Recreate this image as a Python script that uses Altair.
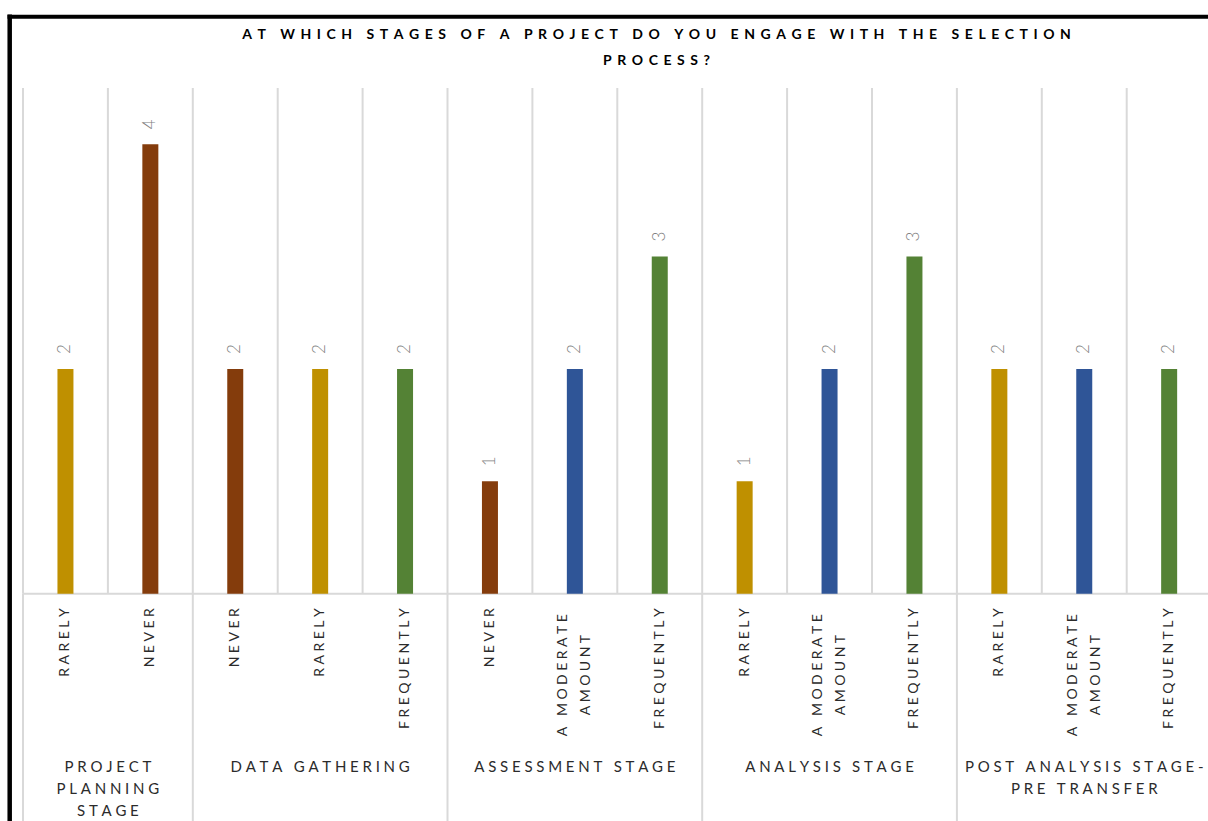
import altair as alt
import pandas as pd

title_lines = ["AT WHICH STAGES OF A PROJECT DO YOU ENGAGE WITH THE SELECTION", "PROCESS?"]
group_labels = [
    ["PROJECT", "PLANNING", "STAGE"],
    ["DATA GATHERING"],
    ["ASSESSMENT STAGE"],
    ["ANALYSIS STAGE"],
    ["POST ANALYSIS STAGE-", "PRE TRANSFER"],
]
responses = [
    ["RARELY", "NEVER"],
    ["NEVER", "RARELY", "FREQUENTLY"],
    ["NEVER", "A MODERATE AMOUNT", "FREQUENTLY"],
    ["RARELY", "A MODERATE AMOUNT", "FREQUENTLY"],
    ["RARELY", "A MODERATE AMOUNT", "FREQUENTLY"],
]
values = [
    [2, 4],
    [2, 2, 2],
    [1, 2, 3],
    [1, 2, 3],
    [2, 2, 2],
]
label_lines = {"A MODERATE AMOUNT": ["A MODERATE", "AMOUNT"]}
color_domain = ["RARELY", "NEVER", "A MODERATE AMOUNT", "FREQUENTLY"]
color_range = ["#BF9000", "#843C0C", "#2F5597", "#548235"]

FONT = "Lato"
SP = "\u2005"
SP_T = "\u2004\u200A"
TXT = "#2b2b2b"


def spaced(s, sp=SP):
    return (sp + " " + sp).join(sp.join(w) for w in s.split(" "))


rows = []
k = 0
bounds = [0]
grp_rows = []
for gi, (resp, vals) in enumerate(zip(responses, values)):
    start = k
    for r, v in zip(resp, vals):
        lines = label_lines.get(r, [r])
        rows.append({
            "pos": k + 0.5,
            "response": r,
            "value": v,
            "label": "\n".join(spaced(l) for l in lines),
            "multi": len(lines) > 1,
        })
        k += 1
    bounds.append(k)
    grp_rows.append({"pos": (start + k) / 2, "label": "\n".join(spaced(l) for l in group_labels[gi])})

df = pd.DataFrame(rows)
single = df[~df["multi"]]
multi = df[df["multi"]]
grp = pd.DataFrame(grp_rows)
cat_lines = pd.DataFrame({"x": list(range(0, k + 1))})
grp_lines = pd.DataFrame({"x": bounds})

YMAX = 4.5
YMIN = -2.0222
xs = alt.Scale(domain=[0, 1185 / 84.9], nice=False, zero=False, padding=0)
ys = alt.Scale(domain=[YMIN, YMAX], nice=False, zero=False, padding=0)

grid = alt.Chart(cat_lines).mark_rule(color="#d9d9d9", strokeWidth=2).encode(
    x=alt.X("x:Q", scale=xs, axis=None),
    y=alt.Y(datum=0, scale=ys, axis=None),
    y2=alt.Y2(datum=YMAX),
)
gsep = alt.Chart(grp_lines).mark_rule(color="#d9d9d9", strokeWidth=2).encode(
    x=alt.X("x:Q", scale=xs, axis=None),
    y=alt.Y(datum=0, scale=ys, axis=None),
    y2=alt.Y2(datum=YMIN),
)
axisline = alt.Chart(pd.DataFrame({"a": [0], "b": [k]})).mark_rule(color="#d9d9d9", strokeWidth=2).encode(
    x=alt.X("a:Q", scale=xs, axis=None),
    x2="b:Q",
    y=alt.Y(datum=0, scale=ys, axis=None),
)
bars = alt.Chart(df).mark_bar(size=16).encode(
    x=alt.X("pos:Q", scale=xs, axis=None),
    y=alt.Y("value:Q", scale=ys, axis=None),
    y2=alt.Y2(datum=0),
    color=alt.Color("response:N", scale=alt.Scale(domain=color_domain, range=color_range), legend=None),
)
vlabels = alt.Chart(df).mark_text(angle=270, align="left", baseline="middle", dx=15,
                                  font=FONT, fontSize=17, fontWeight=300, color="#7f7f7f").encode(
    x=alt.X("pos:Q", scale=xs, axis=None),
    y=alt.Y("value:Q", scale=ys, axis=None),
    text="value:Q",
)
clab1 = alt.Chart(single).mark_text(angle=270, align="right", baseline="middle",
                                    font=FONT, fontSize=14, color=TXT, lineBreak="\n").encode(
    x=alt.X("pos:Q", scale=xs, axis=None),
    y=alt.Y(datum=-0.129, scale=ys, axis=None),
    text="label:N",
)
clab2 = alt.Chart(multi).mark_text(angle=270, align="center", baseline="middle", dy=-11.5,
                                   font=FONT, fontSize=14, color=TXT, lineBreak="\n",
                                   lineHeight=23).encode(
    x=alt.X("pos:Q", scale=xs, axis=None),
    y=alt.Y(datum=-0.724, scale=ys, axis=None),
    text="label:N",
)
glab = alt.Chart(grp).mark_text(align="center", baseline="top", font=FONT, fontSize=15,
                                color=TXT, lineBreak="\n", lineHeight=22).encode(
    x=alt.X("pos:Q", scale=xs, axis=None),
    y=alt.Y(datum=-1.48, scale=ys, axis=None),
    text="label:N",
)
border_df = pd.DataFrame({"a": [0]})
bleft = alt.Chart(border_df).mark_rule(color="black", strokeWidth=4.5).encode(
    x=alt.value(-13.3), y=alt.value(-73.5), y2=alt.value(740))
btop = alt.Chart(border_df).mark_rule(color="black", strokeWidth=4).encode(
    x=alt.value(-15.5), x2=alt.value(1190), y=alt.value(-71.3))

chart = alt.layer(grid, gsep, axisline, bars, vlabels, clab1, clab2, glab, bleft, btop).properties(
    width=1185,
    height=733,
    padding={"left": 23, "top": 88, "right": 0, "bottom": 0},
    autosize=alt.AutoSizeParams(type="none"),
    background="white",
    title=alt.TitleParams(
        text=[spaced(l, SP_T) for l in title_lines],
        anchor="middle", dx=41, dy=91.5, offset=22, frame="group",
        font=FONT, fontSize=14, fontWeight="bold", color="#000000", lineHeight=26,
        baseline="bottom",
    ),
).configure_view(strokeWidth=0)

chart.save("out.html", embed_options={"renderer": "svg", "actions": False})
